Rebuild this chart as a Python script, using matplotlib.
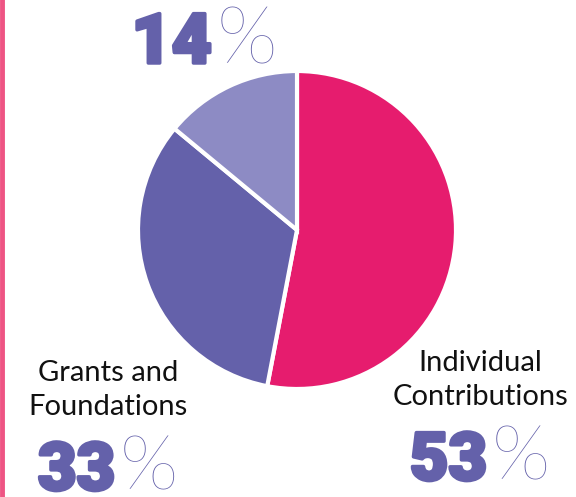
import matplotlib.pyplot as plt
import matplotlib.patheffects as pe

labels = ['Individual\nContributions', 'Grants and\nFoundations', '']
values = [53, 33, 14]
colors = ['#E61C6E', '#6461AA', '#8D8BC4']

NUM_COLOR = '#6461AA'


def pct_label(ax, y, num, size, split):
    # heavy number ends at split, thin % sign starts just after
    ax.text(split, y, str(num), ha='right', va='baseline', fontsize=size,
            fontweight='black', color=NUM_COLOR, family=['Roboto', 'DejaVu Sans'],
            path_effects=[pe.withStroke(linewidth=2.5, foreground=NUM_COLOR)])
    ax.text(split + 5, y, '%', ha='left', va='baseline', fontsize=size * 1.15,
            fontweight='light', color=NUM_COLOR, family=['Lato', 'DejaVu Sans'])


def main():
    fig = plt.figure(figsize=(5.76, 4.97), dpi=100)
    ax = fig.add_axes([0, 0, 1, 1])

    # y axis runs downward, so angles are mirrored
    ax.pie(values, colors=colors, startangle=-90, counterclock=True,
           center=(297, 230), radius=159, frame=True,
           wedgeprops=dict(edgecolor='white', linewidth=3))
    ax.set_xlim(0, 576)
    ax.set_ylim(497, 0)
    ax.set_aspect('equal')
    ax.axis('off')

    # pink rule on the left edge
    ax.axvline(1.5, color='#EE5584', linewidth=3.5)

    lab_font = ['Lato', 'DejaVu Sans']
    ax.text(108, 415, labels[1], ha='center', va='baseline', fontsize=21,
            linespacing=1.38, color='#111111', family=lab_font)
    ax.text(480, 405, labels[0], ha='center', va='baseline', fontsize=21,
            linespacing=1.38, color='#111111', family=lab_font)

    pct_label(ax, 63, values[2], 50, 212)
    pct_label(ax, 480, values[0], 48, 487)
    pct_label(ax, 490, values[1], 48, 115)

    fig.savefig('out.png', dpi=100)


if __name__ == '__main__':
    main()
